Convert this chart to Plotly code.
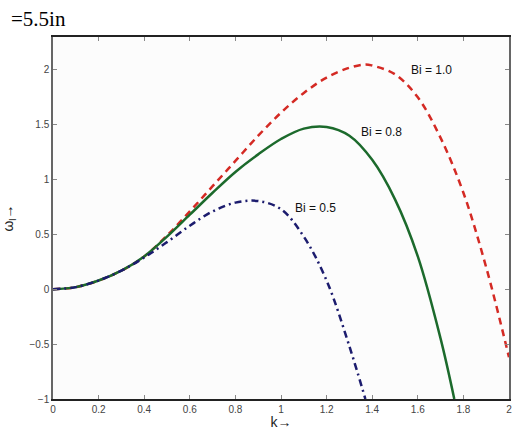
import plotly.graph_objects as go

# Data
k_bi10 = [0, 0.1, 0.2, 0.3, 0.4, 0.5, 0.6, 0.7, 0.8, 0.9, 1.0, 1.1, 1.2, 1.3, 1.37, 1.4, 1.5, 1.6, 1.7, 1.8, 1.9, 2.0]
w_bi10 = [0, 0.02, 0.08, 0.17, 0.30, 0.49, 0.71, 0.94, 1.17, 1.40, 1.61, 1.79, 1.93, 2.02, 2.05, 2.04, 1.96, 1.75, 1.38, 0.88, 0.20, -0.62]

k_bi08 = [0, 0.1, 0.2, 0.3, 0.4, 0.5, 0.6, 0.7, 0.8, 0.9, 1.0, 1.1, 1.2, 1.3, 1.4, 1.5, 1.6, 1.7, 1.76]
w_bi08 = [0, 0.02, 0.08, 0.17, 0.30, 0.48, 0.68, 0.88, 1.07, 1.23, 1.37, 1.465, 1.48, 1.40, 1.18, 0.82, 0.30, -0.45, -1.0]

k_bi05 = [0, 0.1, 0.2, 0.3, 0.4, 0.5, 0.6, 0.7, 0.8, 0.9, 1.0, 1.1, 1.2, 1.3, 1.37]
w_bi05 = [0, 0.02, 0.08, 0.17, 0.29, 0.43, 0.58, 0.71, 0.79, 0.805, 0.73, 0.48, 0.08, -0.52, -1.0]

labels = ["Bi = 1.0", "Bi = 0.8", "Bi = 0.5"]
label_k = [1.66, 1.44, 1.15]
label_w = [2.0, 1.43, 0.745]

x_ticks = [0, 0.2, 0.4, 0.6, 0.8, 1, 1.2, 1.4, 1.6, 1.8, 2]
x_tick_text = ["0", "0.2", "0.4", "0.6", "0.8", "1", "1.2", "1.4", "1.6", "1.8", "2"]
y_ticks = [-1, -0.5, 0, 0.5, 1, 1.5, 2]
y_tick_text = ["\u22121", "\u22120.5", "0", "0.5", "1", "1.5", "2"]

fig = go.Figure()
fig.add_trace(go.Scatter(x=k_bi10, y=w_bi10, mode="lines", line=dict(color="#d42a24", width=2.5, dash="7px,5px", shape="spline"), showlegend=False))
fig.add_trace(go.Scatter(x=k_bi08, y=w_bi08, mode="lines", line=dict(color="#1c6a2c", width=2.5, shape="spline"), showlegend=False))
fig.add_trace(go.Scatter(x=k_bi05, y=w_bi05, mode="lines", line=dict(color="#1c1c6e", width=2.5, dash="7px,4px,2px,4px", shape="spline"), showlegend=False))

for t, kx, wy in zip(labels, label_k, label_w):
    fig.add_annotation(x=kx, y=wy, text=t, showarrow=False, font=dict(family="Liberation Sans", size=12, color="#111"))

fig.add_annotation(xref="paper", yref="paper", x=0, y=1, xshift=-44, yshift=4, xanchor="left", yanchor="bottom",
                   text="=5.5in", showarrow=False, font=dict(family="Liberation Serif", size=21, color="#000"))

axis_common = dict(showgrid=False, zeroline=False, showline=True, linewidth=1.5,
                   mirror="ticks", ticks="inside", ticklen=4, tickcolor="#888",
                   tickfont=dict(family="Liberation Sans", size=10, color="#444"))

fig.update_xaxes(range=[0, 2], tickvals=x_ticks, ticktext=x_tick_text, linecolor="#222",
                 title=dict(text="k\u2192", font=dict(family="Liberation Sans", size=14, color="#222"), standoff=2),
                 **axis_common)
fig.update_yaxes(range=[-1, 2.3], tickvals=y_ticks, ticktext=y_tick_text, linecolor="#666",
                 title=dict(text="\u03c9<sub>l</sub>\u2192", font=dict(family="Liberation Sans", size=14, color="#222"), standoff=16),
                 **axis_common)

fig.update_layout(width=514, height=430, margin=dict(l=53, r=3, t=37, b=30),
                  paper_bgcolor="white", plot_bgcolor="#fcfcfc")

fig.write_html("out.html")
